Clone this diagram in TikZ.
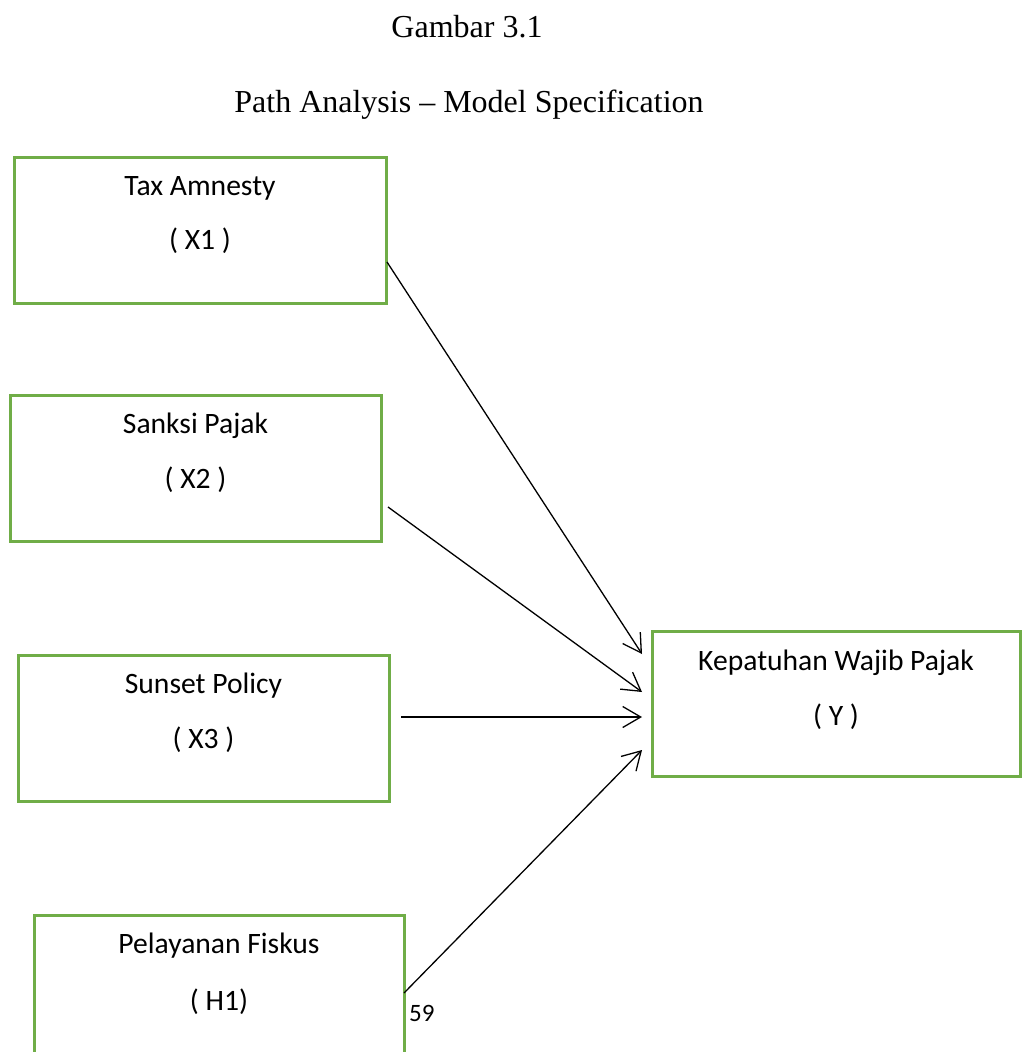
\documentclass[tikz,border=0pt]{standalone}
\usepackage{fontspec}
\setmainfont{Liberation Serif}
\newfontfamily\boxfont{Carlito}
\usetikzlibrary{arrows.meta}
\definecolor{boxgreen}{RGB}{112,173,71}
\begin{document}
\begin{tikzpicture}[x=1pt,y=-1pt,
  varbox/.style={draw=boxgreen, line width=3pt, rectangle, anchor=north west,
    inner sep=0pt, outer sep=0pt, minimum width=#1, minimum height=146pt},
  boxlabel/.style={anchor=base, inner sep=0pt, font=\boxfont\fontsize{29.6}{35}\selectfont},
  titletext/.style={anchor=base, inner sep=0pt, font=\fontsize{32}{38}\selectfont},
  path/.style={draw=black, line width=1.3pt,
    -{Straight Barb[length=18pt,width=21pt,line width=1.3pt]}}]
  \useasboundingbox (0,0) rectangle (1022,1052);

  % heading
  \node[titletext] (title) at (467,37) {Gambar 3.1};
  \node[titletext] (subtitle) at (469,112) {Path Analysis -- Model Specification};

  % variable boxes
  \node[varbox=372pt] (x1) at (14,157) {};
  \node[varbox=371pt] (x2) at (10,395) {};
  \node[varbox=371pt] (x3) at (18,655) {};
  \node[varbox=370pt] (h1) at (34,915) {};
  \node[varbox=368pt, minimum height=145pt] (y) at (652,631) {};

  % box captions
  \node[boxlabel] (x1name) at ([yshift=-38.5pt]x1.north) {Tax Amnesty};
  \node[boxlabel] (x1code) at ([yshift=-92pt]x1.north) {( X1 )};
  \node[boxlabel] (x2name) at ([yshift=-38.5pt]x2.north) {Sanksi Pajak};
  \node[boxlabel] (x2code) at ([yshift=-93pt]x2.north) {( X2 )};
  \node[boxlabel] (x3name) at ([yshift=-38.5pt]x3.north) {Sunset Policy};
  \node[boxlabel] (x3code) at ([yshift=-93pt]x3.north) {( X3 )};
  \node[boxlabel] (h1name) at ([yshift=-38.5pt]h1.north) {Pelayanan Fiskus};
  \node[boxlabel] (h1code) at ([yshift=-95pt]h1.north) {( H1)};
  \node[boxlabel] (yname) at ([yshift=-39pt]y.north) {Kepatuhan Wajib Pajak};
  \node[boxlabel] (ycode) at ([yshift=-94pt]y.north) {( Y )};

  % page number
  \node[anchor=base west, inner sep=0pt, font=\boxfont\fontsize{25}{30}\selectfont] (pageno) at (409,1021) {59};

  % path endpoints
  \coordinate (s1) at (387,262);
  \coordinate (s2) at (388,507);
  \coordinate (s3) at (401,717);
  \coordinate (s4) at (404,993);
  \coordinate (e1) at (642,654);
  \coordinate (e2) at (642,692);
  \coordinate (e3) at (642,717);
  \coordinate (e4) at (642,750);

  % paths into Y
  \draw[path] (s1) -- (e1);
  \draw[path] (s2) -- (e2);
  \draw[path] (s3) -- (e3);
  \draw[path] (s4) -- (e4);
\end{tikzpicture}
\end{document}
